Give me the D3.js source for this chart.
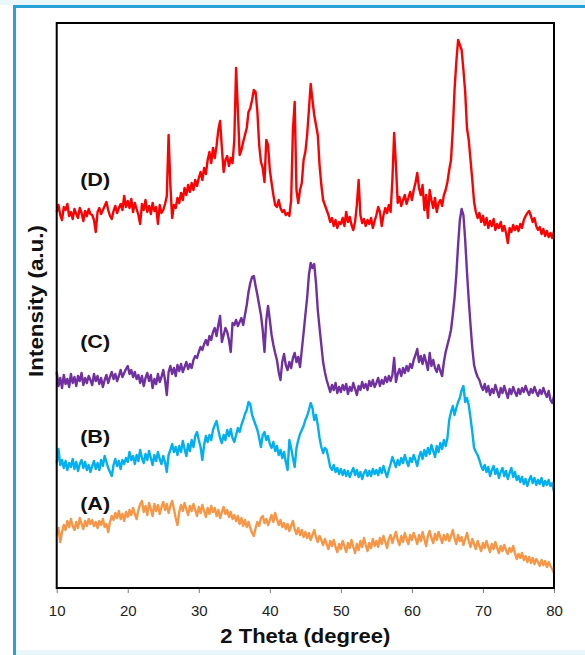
<!DOCTYPE html>
<html>
<head>
<meta charset="utf-8">
<script src="https://cdn.jsdelivr.net/npm/d3@7"></script>
<style>
  html, body { margin: 0; padding: 0; background: #ffffff; }
  svg { display: block; }
</style>
</head>
<body>
<svg id="chart" width="585" height="655"></svg>
<script>
// ---- DATA (intensity in arbitrary units, sampled every 0.25 degree 2θ from 10 to 80) ----
const twoTheta = d3.range(10, 80.001, 0.25);
const tickLabels = [10, 20, 30, 40, 50, 60, 70, 80];
const seriesNames = ["(A)", "(B)", "(C)", "(D)"];
const seriesColors = ["#f79646", "#00b0f0", "#7030a0", "#ff0000"];

const intensityD = [
  379,386,376,371,384,381,387,375,379,372,382,377,373,383,378,370,380,375,382,377,
  376,371,359,379,383,377,381,385,389,381,375,372,380,385,378,383,387,381,395,384,
  390,383,392,379,388,382,376,367,387,381,391,379,385,377,388,380,384,367,386,378,
  381,387,395,456,406,373,386,383,393,388,398,391,403,396,406,399,408,401,411,405,
  413,419,411,423,417,431,439,428,443,433,445,461,470,443,419,431,435,425,433,428,
  451,523,481,436,441,449,456,463,479,483,491,501,499,479,446,429,423,409,451,446,
  421,408,396,386,384,391,383,379,381,376,378,375,391,461,489,401,388,401,408,431,
  439,456,481,507,491,476,466,456,426,406,391,386,381,376,369,373,365,371,363,369,
  367,373,365,379,369,374,366,361,369,386,411,376,368,372,365,371,367,373,363,370,
  376,384,379,365,376,383,378,386,379,411,458,426,388,394,385,391,396,387,393,399,
  391,401,408,418,403,396,406,381,396,373,401,391,383,393,379,388,391,385,396,401,
  409,421,431,461,501,529,551,546,541,521,499,463,451,431,411,389,379,373,378,369,
  375,366,373,363,370,365,372,361,367,363,369,360,365,358,348,363,359,366,361,365,
  360,367,363,371,375,378,380,375,369,373,365,361,364,357,362,355,360,354,358,353,360
];

const intensityC = [
  219,205,213,203,216,207,212,204,217,208,214,205,215,210,218,206,213,208,215,211,
  206,217,210,215,207,213,204,211,216,208,214,219,212,217,210,215,221,214,218,222,
  225,217,221,214,219,212,216,208,215,205,213,218,210,216,203,212,207,217,209,214,
  221,211,196,219,225,217,223,215,226,220,227,219,224,229,222,227,223,231,235,233,
  239,244,241,247,251,246,255,251,259,263,255,266,275,249,256,263,259,251,239,268,
  266,271,265,269,273,266,276,286,299,308,314,315,305,296,286,276,261,239,271,285,
  271,256,246,238,231,219,211,229,237,226,221,229,223,233,238,229,234,224,241,258,
  276,293,316,328,323,327,308,281,263,246,229,219,211,205,199,206,201,208,198,204,
  199,206,201,207,197,204,200,208,202,196,205,201,209,203,207,201,210,205,211,204,
  208,213,205,211,207,214,209,215,210,216,233,209,217,222,215,223,218,225,220,227,
  223,231,236,242,229,235,227,236,229,221,238,225,231,223,219,226,220,215,229,239,
  246,253,261,276,293,316,346,371,382,376,351,319,291,266,243,226,219,214,211,205,
  201,207,199,205,196,202,198,206,200,194,203,198,205,199,193,202,197,204,199,195,
  202,197,203,199,205,200,196,202,198,204,199,195,201,197,203,198,194,200,191,188,195
];

const intensityB = [
  128,142,126,131,123,130,121,128,124,132,122,129,120,127,131,123,129,121,126,119,
  125,130,122,128,121,131,125,135,129,123,119,115,126,132,125,130,122,131,127,133,
  129,139,131,135,127,136,130,141,133,128,137,131,140,133,126,136,130,139,132,127,
  135,129,119,136,141,147,139,144,136,145,139,150,142,135,147,140,151,144,155,159,
  151,144,131,146,155,149,156,151,161,166,170,161,153,148,156,151,161,155,162,153,
  149,156,163,159,166,171,177,181,189,187,176,171,166,161,153,144,156,159,151,155,
  147,143,149,140,145,136,141,133,139,129,121,151,143,133,124,143,151,157,161,165,
  171,175,181,188,183,171,176,166,153,144,138,143,141,133,124,121,126,119,123,117,
  122,116,121,115,120,114,119,123,116,121,114,119,112,118,121,115,120,115,122,117,
  121,116,123,118,125,119,114,121,127,134,129,124,131,126,133,128,136,130,125,133,
  129,136,131,125,134,139,132,141,135,143,137,146,140,134,145,139,148,142,151,145,
  153,171,179,185,176,183,189,193,201,205,189,193,186,173,159,143,139,136,131,125,
  121,126,119,124,115,121,125,117,122,113,119,123,115,120,112,118,123,114,119,111,
  115,109,114,107,112,105,111,115,108,113,106,111,107,113,105,110,106,111,105,108,99
];

const intensityA = [
  56,63,49,59,66,61,70,64,72,65,61,69,63,73,67,62,70,65,72,67,
  71,65,69,63,70,66,72,64,67,59,69,75,71,78,73,80,72,77,70,79,
  74,81,76,83,77,72,81,87,90,79,85,76,88,82,75,87,80,86,77,84,
  89,81,87,78,85,90,82,73,66,79,86,80,88,82,76,85,80,87,81,75,
  84,78,86,80,74,83,77,85,79,83,75,81,73,79,84,77,81,74,79,72,
  76,70,75,67,73,65,71,64,69,63,58,55,63,69,65,73,75,68,72,66,
  71,76,69,78,72,66,71,64,68,62,67,60,65,70,62,57,63,56,61,54,
  59,53,58,51,56,61,54,49,55,51,46,52,47,42,50,45,51,44,39,47,
  42,50,45,39,48,43,51,44,38,47,41,50,44,53,46,40,48,43,52,45,
  50,44,53,47,55,49,43,52,56,48,54,59,51,46,55,49,58,52,47,56,
  51,58,53,47,56,50,59,52,45,55,60,53,48,57,51,59,54,48,56,51,
  57,50,55,61,53,47,56,50,54,46,52,58,50,44,52,47,42,50,45,40,
  48,43,50,44,39,47,42,49,43,38,45,40,46,41,37,43,39,45,38,32,
  37,33,38,31,35,29,34,28,33,27,32,29,25,31,26,30,24,29,25,22,18
];

const allSeries = [intensityA, intensityB, intensityC, intensityD];
// label anchor points: [2θ, intensity] where each label sits (left edge of text)
const labelTheta = [13.3, 13.3, 13.3, 13.3];
const labelIntensity = [81, 148, 243, 405];

// ---- DRAWING ----
const svg = d3.select("#chart");
const W = 585, H = 655;
const plot = { left: 56.7, right: 554, top: 23, bottom: 588 };

// outer frame
svg.append("rect").attr("x", 0).attr("y", 0).attr("width", W).attr("height", H).attr("fill", "#ffffff");
svg.append("rect").attr("x", 0).attr("y", 0).attr("width", W).attr("height", 5).attr("fill", "#e9f7fb");
svg.append("rect").attr("x", 16).attr("y", 650).attr("width", W).attr("height", 5).attr("fill", "#e9f7fb");
svg.append("rect").attr("x", 14.5).attr("y", 6.5).attr("width", 700).attr("height", 700)
  .attr("fill", "none").attr("stroke", "#27a2d8").attr("stroke-width", 3);

const x = d3.scaleLinear().domain([10, 80]).range([plot.left, plot.right]);
const y = d3.scaleLinear().domain([3, 568]).range([plot.bottom, plot.top]);

// x axis
const xAxis = d3.axisBottom(x).tickValues(tickLabels).tickFormat(d3.format("d"))
  .tickSize(5).tickPadding(12);
const gx = svg.append("g").attr("transform", `translate(0,${plot.bottom})`).call(xAxis);
gx.select(".domain").remove();
gx.selectAll(".tick line").attr("stroke", "#7a7a7a").attr("stroke-width", 1);
gx.selectAll(".tick text")
  .attr("font-family", "'Liberation Sans', Arial, sans-serif")
  .attr("font-size", 15).attr("fill", "#222");

// lines
const line = d3.line()
  .x((d, i) => x(twoTheta[i]))
  .y(d => y(d));

const order = [3, 2, 1, 0];
order.forEach(k => {
  svg.append("path")
    .datum(allSeries[k])
    .attr("fill", "none")
    .attr("stroke", seriesColors[k])
    .attr("stroke-width", 2.4)
    .attr("stroke-linejoin", "round")
    .attr("d", line);
});

// plot box
svg.append("rect")
  .attr("x", plot.left).attr("y", plot.top)
  .attr("width", plot.right - plot.left).attr("height", plot.bottom - plot.top)
  .attr("fill", "none").attr("stroke", "#000").attr("stroke-width", 2);

// series labels
seriesNames.forEach((name, k) => {
  svg.append("text")
    .attr("x", x(labelTheta[k]))
    .attr("y", y(labelIntensity[k]))
    .attr("font-family", "'Liberation Sans', Arial, sans-serif")
    .attr("font-weight", "bold")
    .attr("font-size", 18)
    .attr("textLength", 30)
    .attr("lengthAdjust", "spacingAndGlyphs")
    .attr("fill", "#111")
    .text(name);
});

// axis titles
svg.append("text")
  .attr("x", (plot.left + plot.right) / 2 - 85)
  .attr("y", 643)
  .attr("font-family", "'Liberation Sans', Arial, sans-serif")
  .attr("font-weight", "bold").attr("font-size", 20)
  .attr("textLength", 170).attr("lengthAdjust", "spacingAndGlyphs")
  .attr("fill", "#111")
  .text("2 Theta (degree)");

svg.append("text")
  .attr("transform", "translate(42.5,377) rotate(-90)")
  .attr("x", 0).attr("y", 0)
  .attr("font-family", "'Liberation Sans', Arial, sans-serif")
  .attr("font-weight", "bold").attr("font-size", 20)
  .attr("textLength", 152).attr("lengthAdjust", "spacingAndGlyphs")
  .attr("fill", "#111")
  .text("Intensity (a.u.)");
</script>
</body>
</html>
